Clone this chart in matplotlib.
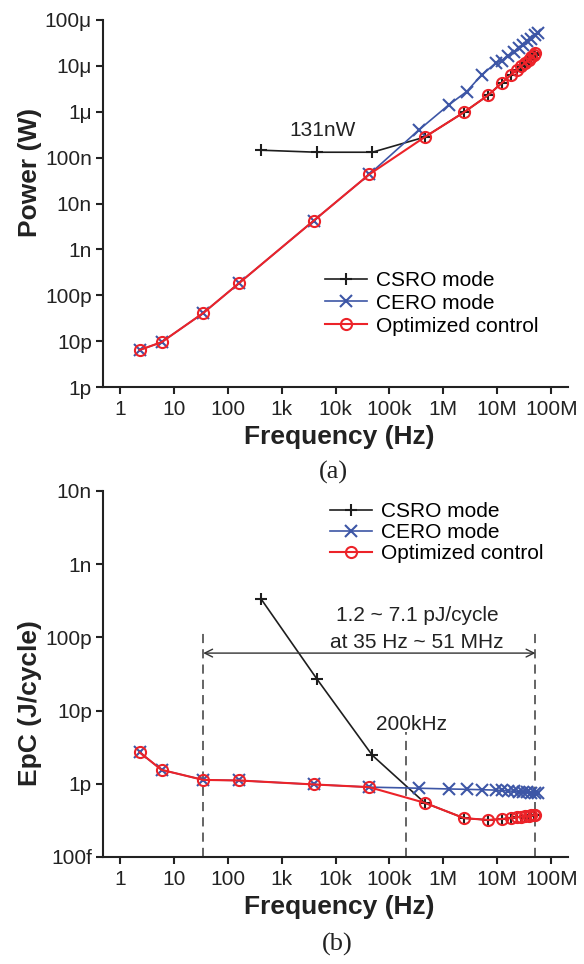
import matplotlib
matplotlib.use('Agg')
import matplotlib.pyplot as plt
from matplotlib.ticker import FixedLocator, FixedFormatter, NullLocator

# ---- data ----
x_ticks = [1, 10, 100, 1e3, 1e4, 1e5, 1e6, 1e7, 1e8]
x_ticklabels = ['1', '10', '100', '1k', '10k', '100k', '1M', '10M', '100M']
p_ticks = [1e-12, 1e-11, 1e-10, 1e-9, 1e-8, 1e-7, 1e-6, 1e-5, 1e-4]
p_ticklabels = ['1p', '10p', '100p', '1n', '10n', '100n', '1\u03bc', '10\u03bc', '100\u03bc']
e_ticks = [1e-13, 1e-12, 1e-11, 1e-10, 1e-9, 1e-8]
e_ticklabels = ['100f', '1p', '10p', '100p', '1n', '10n']

csro_freq = [420, 4.5e3, 48e3, 4.5e5, 2.4e6, 6.8e6, 12e6, 18e6, 23e6, 28e6,
             33e6, 38e6, 43e6, 47e6, 51e6]
csro_power = [145e-9, 131e-9, 131e-9, 2.8e-7, 0.97e-6, 2.3e-6, 4.2e-6, 6.4e-6,
              8.2e-6, 10e-6, 11.7e-6, 13.4e-6, 15.2e-6, 17e-6, 19.5e-6]
csro_epc = [330e-12, 27e-12, 2.45e-12, 0.55e-12, 0.34e-12, 0.32e-12, 0.33e-12,
            0.34e-12, 0.35e-12, 0.355e-12, 0.36e-12, 0.36e-12, 0.37e-12,
            0.37e-12, 0.38e-12]

cero_freq = [2.3, 5.9, 35, 160, 3.9e3, 42e3, 3.5e5, 1.25e6, 2.7e6, 5.1e6, 9.3e6,
             12e6, 16e6, 20e6, 25e6, 30e6, 36e6, 42e6, 50e6, 58e6]
cero_power = [6.4e-12, 9.5e-12, 41e-12, 182e-12, 4.2e-9, 43e-9, 0.40e-6, 1.4e-6,
              2.75e-6, 6.3e-6, 11.4e-6, 13e-6, 16.5e-6, 20e-6, 24e-6, 29e-6,
              34e-6, 39e-6, 46e-6, 52e-6]
cero_epc = [2.7e-12, 1.55e-12, 1.13e-12, 1.11e-12, 0.98e-12, 0.90e-12, 0.87e-12,
            0.85e-12, 0.84e-12, 0.83e-12, 0.82e-12, 0.81e-12, 0.80e-12, 0.79e-12,
            0.78e-12, 0.78e-12, 0.77e-12, 0.76e-12, 0.75e-12, 0.75e-12]

opt_freq = [2.3, 5.9, 35, 160, 3.9e3, 42e3, 4.5e5, 2.4e6, 6.8e6, 12e6, 18e6,
            23e6, 28e6, 33e6, 38e6, 43e6, 47e6, 51e6]
opt_power = [6.4e-12, 9.5e-12, 41e-12, 182e-12, 4.2e-9, 43e-9, 2.8e-7, 0.97e-6,
             2.3e-6, 4.2e-6, 6.4e-6, 8.2e-6, 10e-6, 11.7e-6, 13.4e-6, 15.2e-6,
             17e-6, 19.5e-6]
opt_epc = [2.7e-12, 1.55e-12, 1.13e-12, 1.11e-12, 0.98e-12, 0.90e-12, 0.55e-12,
           0.34e-12, 0.32e-12, 0.33e-12, 0.34e-12, 0.35e-12, 0.355e-12, 0.36e-12,
           0.36e-12, 0.37e-12, 0.37e-12, 0.38e-12]

range_freq = [35, 51e6]      # optimized range markers
range_top = 118e-12
range_arrow_y = 61e-12
switch_freq = 2e5            # 200 kHz marker
switch_top = 5.1e-12

BLACK = '#1e1e1e'
BLUE = '#3d56a6'
RED = '#ec2329'
TXT = '#222222'

plt.rcParams['font.family'] = ['Liberation Sans', 'DejaVu Sans']


def style_axis(ax, yticks, yticklabels, ylim):
    ax.set_xscale('log')
    ax.set_yscale('log')
    ax.set_xlim(0.484, 2.05e8)
    ax.set_ylim(*ylim)
    ax.xaxis.set_major_locator(FixedLocator(x_ticks))
    ax.xaxis.set_major_formatter(FixedFormatter(x_ticklabels))
    ax.yaxis.set_major_locator(FixedLocator(yticks))
    ax.yaxis.set_major_formatter(FixedFormatter(yticklabels))
    ax.xaxis.set_minor_locator(NullLocator())
    ax.yaxis.set_minor_locator(NullLocator())
    for s in ['top', 'right']:
        ax.spines[s].set_visible(False)
    for s in ['left', 'bottom']:
        ax.spines[s].set_linewidth(1.5)
        ax.spines[s].set_color(TXT)
    ax.tick_params(direction='out', length=5, width=1.5, labelsize=15,
                   colors=TXT, pad=3)
    ax.tick_params(axis='x', pad=4.5)
    ax.set_xlabel('Frequency (Hz)', fontsize=19, fontweight='bold', color=TXT)
    ax.xaxis.set_label_coords(0.507, -0.103)


def plot_series(ax, yc, yb, yr):
    ax.plot(csro_freq, yc, color=BLACK, lw=1.2, marker='+', ms=9, mew=1.5,
            label='CSRO mode', zorder=2)
    ax.plot(cero_freq, yb, color=BLUE, lw=1.2, marker='x', ms=9, mew=1.5,
            label='CERO mode', zorder=3)
    ax.plot(opt_freq, yr, color=RED, lw=1.5, marker='o', ms=8, mew=1.5,
            mfc='none', label='Optimized control', zorder=4)


fig = plt.figure(figsize=(5.84, 9.64), dpi=100)
ax1 = fig.add_axes([0.1764, 0.5985, 0.7962, 0.3808])
ax2 = fig.add_axes([0.1764, 0.1110, 0.7962, 0.3797])

# (a) power
plot_series(ax1, csro_power, cero_power, opt_power)
style_axis(ax1, p_ticks, p_ticklabels, (1e-12, 1e-4))
ax1.set_ylabel('Power (W)', fontsize=19, fontweight='bold', color=TXT)
ax1.yaxis.set_label_coords(-0.132, 0.585)
ax1.text(0.473, 0.698, '131nW', transform=ax1.transAxes, fontsize=15,
         color=TXT, ha='center', va='center')
ax1.legend(loc='upper left', bbox_to_anchor=(325 / 584, 1 - 271 / 964),
           bbox_transform=fig.transFigure, frameon=False, fontsize=15,
           handlelength=2.0, handletextpad=0.45, labelspacing=0.18,
           borderpad=0, borderaxespad=0)

# (b) energy per cycle
plot_series(ax2, csro_epc, cero_epc, opt_epc)
style_axis(ax2, e_ticks, e_ticklabels, (1e-13, 1e-8))
ax2.set_ylabel('EpC (J/cycle)', fontsize=19, fontweight='bold', color=TXT)
ax2.yaxis.set_label_coords(-0.132, 0.42)
for f in range_freq:
    ax2.plot([f, f], [1e-13, range_top], color='#3a3a3a', lw=1.1,
             ls=(0, (6, 4)), zorder=1)
ax2.plot([switch_freq, switch_freq], [1e-13, switch_top], color='#3a3a3a',
         lw=1.1, ls=(0, (6, 4)), zorder=1)
ax2.annotate('', xy=(range_freq[1], range_arrow_y),
             xytext=(range_freq[0], range_arrow_y),
             arrowprops=dict(arrowstyle='<->', color='#333333', lw=1.0,
                             shrinkA=0, shrinkB=0, mutation_scale=14))
ax2.text(0.675, 0.661, '1.2 ~ 7.1 pJ/cycle', transform=ax2.transAxes,
         fontsize=15, color=TXT, ha='center', va='center')
ax2.text(0.675, 0.587, 'at 35 Hz ~ 51 MHz', transform=ax2.transAxes,
         fontsize=15, color=TXT, ha='center', va='center')
ax2.text(0.6645, 0.363, '200kHz', transform=ax2.transAxes, fontsize=15,
         color=TXT, ha='center', va='center')
ax2.legend(loc='upper left', bbox_to_anchor=(330 / 584, 1 - 502 / 964),
           bbox_transform=fig.transFigure, frameon=False, fontsize=15,
           handlelength=2.0, handletextpad=0.45, labelspacing=0.1,
           borderpad=0, borderaxespad=0)

fig.text(333 / 584, 1 - 472 / 964, '(a)', fontsize=19, ha='center',
         va='center', family='Liberation Serif', color=TXT)
fig.text(337 / 584, 1 - 944 / 964, '(b)', fontsize=19, ha='center',
         va='center', family='Liberation Serif', color=TXT)

fig.savefig('out.png', dpi=100)
